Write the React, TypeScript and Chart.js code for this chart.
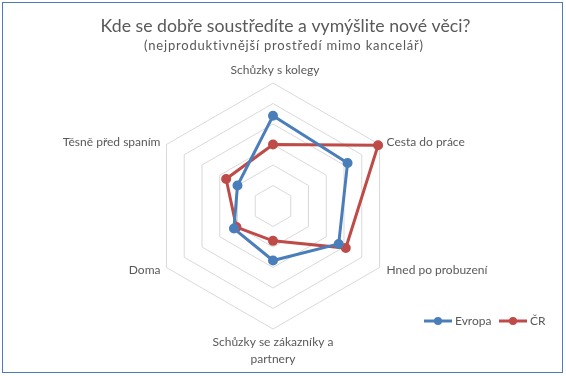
import React, { useEffect, useRef } from 'react';
import { Chart, registerables } from 'chart.js';

Chart.register(...registerables);

const titleText = 'Kde se dobře soustředíte a vymýšlite nové věci?';
const subtitleText = '(nejproduktivnější prostředí mimo kancelář)';
const categories: string[][] = [
  ['Schůzky s kolegy'],
  ['Cesta do práce'],
  ['Hned po probuzení'],
  ['Schůzky se zákazníky a', 'partnery'],
  ['Doma'],
  ['Těsně před spaním'],
];
const seriesNames = ['Evropa', 'ČR'];
const evropa = [22, 21, 18.5, 13.3, 11, 10];
const cr = [15, 29.6, 20.5, 8.5, 10.3, 13.2];
const seriesColors = ['#4A7EBB', '#BE4B48'];
const scaleMin = 0;
const scaleMax = 30;
const scaleStep = 5;

const FONT = 'Lato, "Liberation Sans", sans-serif';
const TEXT = '#595959';

const decorPlugin = {
  id: 'decor',
  afterDraw(chart: any) {
    const ctx = chart.ctx as CanvasRenderingContext2D;
    const scale = chart.scales.r;
    ctx.save();
    // chart border
    ctx.strokeStyle = '#4A7EBB';
    ctx.lineWidth = 1;
    ctx.strokeRect(2.5, 2.5, 560, 370);

    // title
    ctx.fillStyle = TEXT;
    ctx.textAlign = 'center';
    ctx.textBaseline = 'alphabetic';
    ctx.font = `17.7px ${FONT}`;
    ctx.fillText(titleText, 285.5, 32);
    ctx.font = `13px ${FONT}`;
    (ctx as any).letterSpacing = '0.8px';
    ctx.fillText(subtitleText, 284, 49.5);
    (ctx as any).letterSpacing = '0px';

    // point labels
    ctx.font = `12px ${FONT}`;
    ctx.textBaseline = 'middle';
    const cx = scale.xCenter;
    const cy = scale.yCenter;
    categories.forEach((lines, i) => {
      const p = scale.getPointPosition(i, scale.drawingArea);
      if (Math.abs(p.x - cx) < 1) {
        ctx.textAlign = 'center';
        if (p.y < cy) {
          ctx.fillText(lines[0], p.x + 2, p.y - 13);
        } else {
          lines.forEach((l, k) => ctx.fillText(l, p.x, p.y + 13.5 + k * 17));
        }
      } else if (p.x > cx) {
        ctx.textAlign = 'left';
        ctx.fillText(lines[0], p.x + 7, p.y + (p.y < cy ? -2 : 2.5));
      } else {
        ctx.textAlign = 'right';
        ctx.fillText(lines[0], p.x - 6, p.y + (p.y < cy ? -2 : 2.5));
      }
    });

    // legend
    const legendX = [424, 499];
    const ly = 321;
    chart.data.datasets.forEach((ds: any, i: number) => {
      const x0 = legendX[i];
      ctx.strokeStyle = ds.borderColor;
      ctx.lineWidth = 3;
      ctx.beginPath();
      ctx.moveTo(x0, ly);
      ctx.lineTo(x0 + 28, ly);
      ctx.stroke();
      ctx.fillStyle = ds.borderColor;
      ctx.beginPath();
      ctx.arc(x0 + 14, ly, 4, 0, Math.PI * 2);
      ctx.fill();
      ctx.fillStyle = TEXT;
      ctx.textAlign = 'left';
      ctx.textBaseline = 'middle';
      ctx.font = `12px ${FONT}`;
      ctx.fillText(ds.label, x0 + 31, ly);
    });
    ctx.restore();
  },
};

export default function App() {
  const ref = useRef<HTMLCanvasElement>(null);
  useEffect(() => {
    if (!ref.current) return;
    const datasets = [evropa, cr].map((vals, i) => ({
      label: seriesNames[i],
      data: vals,
      borderColor: seriesColors[i],
      backgroundColor: seriesColors[i],
      pointBackgroundColor: seriesColors[i],
      pointBorderColor: seriesColors[i],
      borderWidth: 3,
      pointRadius: 3.5,
      fill: false,
    }));
    const chart = new Chart(ref.current, {
      type: 'radar',
      data: { labels: categories.map((c) => c.join(' ')), datasets },
      options: {
        responsive: false,
        animation: false,
        layout: { padding: { left: 149.5, right: 169.5, top: 82.5, bottom: 46.5 } },
        plugins: {
          legend: { display: false },
          title: { display: false },
          tooltip: { enabled: false },
        },
        elements: { line: { tension: 0 } },
        scales: {
          r: {
            min: scaleMin,
            max: scaleMax,
            ticks: { display: false, stepSize: scaleStep },
            grid: { color: '#D9D9D9', lineWidth: 1 },
            angleLines: { display: false },
            pointLabels: { display: false },
          },
        },
      },
      plugins: [decorPlugin],
    } as any);
    return () => chart.destroy();
  }, []);
  return (
    <div style={{ position: 'absolute', left: 0, top: 0, width: 566, height: 376, background: '#fff' }}>
      <canvas ref={ref} width={566} height={376} />
    </div>
  );
}
